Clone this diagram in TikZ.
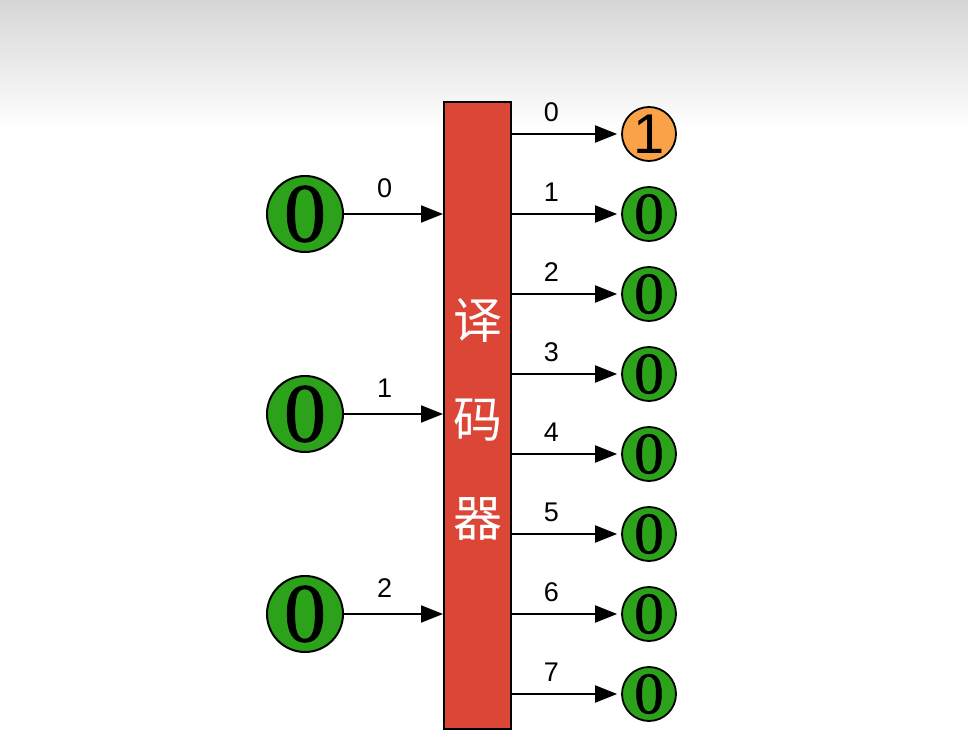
\documentclass[tikz,border=0pt]{standalone}
\usepackage{fontspec}
\setmainfont{Liberation Sans}
\newfontfamily\digitserif[FakeBold=0.8]{Liberation Serif}
\newfontfamily\cjk{Noto Sans CJK SC}
\usetikzlibrary{arrows.meta}
\definecolor{decred}{RGB}{220,70,54}
\definecolor{bitgreen}{RGB}{44,162,26}
\definecolor{bitorange}{RGB}{250,162,72}
\tikzset{
  decbox/.style={draw=black, line width=2pt, fill=decred, minimum width=67pt, minimum height=627pt, inner sep=0pt},
  inbit/.style={circle, draw=black, line width=2pt, fill=bitgreen, minimum size=76pt, inner sep=0pt, font=\digitserif\fontsize{84}{84}\selectfont},
  outbit/.style={circle, draw=black, line width=1.8pt, fill=bitgreen, minimum size=54pt, inner sep=0pt, font=\digitserif\fontsize{59}{59}\selectfont},
  hotbit/.style={outbit, fill=bitorange, font=\fontsize{56}{56}\selectfont},
  conn/.style={line width=2pt, -{Triangle[length=22pt,width=17pt]}},
  lbl/.style={font=\fontsize{27}{27}\selectfont, inner sep=0pt},
  cjkch/.style={text=white, font=\cjk\fontsize{49}{49}\selectfont, inner sep=0pt}
}
\begin{document}
\begin{tikzpicture}[x=1pt,y=1pt]
\useasboundingbox (0,0) rectangle (968,752);
\fill[white] (0,0) rectangle (968,752);
\shade[top color=black!16, bottom color=white] (0,622) rectangle (968,752);
% decoder
\node[decbox] (dec) at (477.5,336.5) {};
\node[cjkch] (c1) at (478,432) {译};
\node[cjkch] (c2) at (478,332) {码};
\node[cjkch] (c3) at (478,233) {器};
% inputs
\node[inbit] (in0) at (305,538) {0};
\node[inbit] (in1) at (305,338) {0};
\node[inbit] (in2) at (305,138) {0};
\foreach \i in {0,1,2}{
  \draw[conn] (in\i.east) -- node[lbl, pos=0.41, yshift=26pt] {\i} (in\i.east -| dec.west);
}
% outputs
\node[hotbit] (out0) at (649,618) {1};
\node[outbit] (out1) at (649,538) {0};
\node[outbit] (out2) at (649,458) {0};
\node[outbit] (out3) at (649,378) {0};
\node[outbit] (out4) at (649,298) {0};
\node[outbit] (out5) at (649,218) {0};
\node[outbit] (out6) at (649,138) {0};
\node[outbit] (out7) at (649,58) {0};
\foreach \i in {0,...,7}{
  \draw[conn, shorten >=4pt] (dec.east |- out\i.west) -- node[lbl, pos=0.36, yshift=22pt] {\i} (out\i.west);
}
\end{tikzpicture}
\end{document}
